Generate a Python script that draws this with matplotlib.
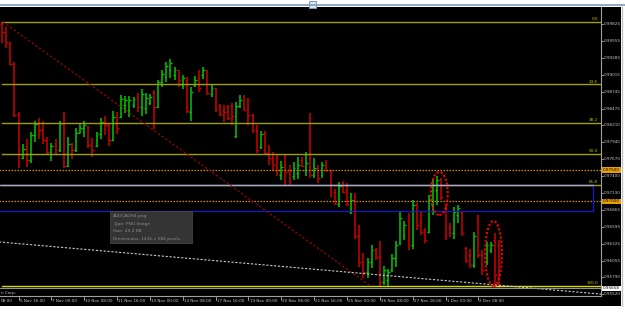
import matplotlib
matplotlib.use('Agg')
import matplotlib.pyplot as plt
from matplotlib.patches import Rectangle, Ellipse
from matplotlib.lines import Line2D
from matplotlib.transforms import blended_transform_factory

W, H = 625, 330

# AUDCAD H4, bar index 0 = 5 Nov 16:00
opens = [0.9983, 0.9970, 0.9954, 0.9919,
         0.9838, 0.9769, 0.9784, 0.9766, 0.9806, 0.9824, 0.9814, 0.9798, 0.9779, 0.9789,
         0.9782, 0.9824, 0.9756, 0.9792, 0.9782, 0.9809, 0.9817, 0.9820, 0.9790, 0.9789,
         0.9808, 0.9827, 0.9822, 0.9798, 0.9835, 0.9835, 0.9854, 0.9846, 0.9854, 0.9867,
         0.9851, 0.9849, 0.9857, 0.9874, 0.9851, 0.9890, 0.9898, 0.9909, 0.9901, 0.9909,
         0.9885, 0.9893, 0.9843, 0.9885, 0.9897, 0.9901, 0.9909, 0.9871, 0.9881, 0.9852,
         0.9846, 0.9852, 0.9852, 0.9805, 0.9852, 0.9865, 0.9846, 0.9838, 0.9814, 0.9787,
         0.9809, 0.9777, 0.9769, 0.9769, 0.9742, 0.9755, 0.9747, 0.9741, 0.9745, 0.9766,
         0.9750, 0.9769, 0.9742, 0.9753, 0.9742, 0.9758, 0.9750, 0.9715, 0.9696, 0.9730,
         0.9718, 0.9683, 0.9702, 0.9645, 0.9604, 0.9588, 0.9604, 0.9623, 0.9612, 0.9572,
         0.9575, 0.9591, 0.9610, 0.9634, 0.9645, 0.9670, 0.9631, 0.9694, 0.9667, 0.9655,
         0.9651, 0.9694, 0.9718, 0.9734, 0.9694, 0.9658, 0.9649, 0.9678, 0.9683, 0.9626,
         0.9615, 0.9599, 0.9670, 0.9615, 0.9604, 0.9623, 0.9639, 0.9631]
highs = [0.9986, 0.9978, 0.9954, 0.9922,
         0.9843, 0.9792, 0.9800, 0.9811, 0.9828, 0.9833, 0.9828, 0.9803, 0.9793, 0.9800,
         0.9828, 0.9843, 0.9803, 0.9793, 0.9817, 0.9824, 0.9828, 0.9820, 0.9801, 0.9811,
         0.9833, 0.9836, 0.9824, 0.9844, 0.9843, 0.9870, 0.9868, 0.9868, 0.9867, 0.9873,
         0.9879, 0.9873, 0.9871, 0.9877, 0.9893, 0.9909, 0.9922, 0.9927, 0.9914, 0.9909,
         0.9901, 0.9898, 0.9882, 0.9900, 0.9909, 0.9914, 0.9909, 0.9885, 0.9881, 0.9855,
         0.9854, 0.9854, 0.9857, 0.9859, 0.9870, 0.9870, 0.9865, 0.9839, 0.9822, 0.9812,
         0.9812, 0.9790, 0.9779, 0.9776, 0.9765, 0.9774, 0.9758, 0.9763, 0.9771, 0.9771,
         0.9779, 0.9841, 0.9769, 0.9758, 0.9763, 0.9766, 0.9750, 0.9720, 0.9731, 0.9733,
         0.9730, 0.9714, 0.9714, 0.9662, 0.9618, 0.9610, 0.9631, 0.9626, 0.9637, 0.9597,
         0.9593, 0.9617, 0.9637, 0.9683, 0.9669, 0.9682, 0.9702, 0.9698, 0.9683, 0.9658,
         0.9710, 0.9734, 0.9741, 0.9738, 0.9694, 0.9666, 0.9691, 0.9694, 0.9683, 0.9628,
         0.9625, 0.9652, 0.9678, 0.9623, 0.9636, 0.9636, 0.9650, 0.9639]
lows = [0.9952, 0.9944, 0.9917, 0.9835,
        0.9753, 0.9768, 0.9755, 0.9761, 0.9795, 0.9800, 0.9792, 0.9774, 0.9764, 0.9774,
        0.9779, 0.9753, 0.9755, 0.9768, 0.9779, 0.9809, 0.9803, 0.9785, 0.9771, 0.9787,
        0.9800, 0.9806, 0.9789, 0.9797, 0.9808, 0.9833, 0.9841, 0.9835, 0.9848, 0.9843,
        0.9836, 0.9840, 0.9854, 0.9816, 0.9849, 0.9882, 0.9890, 0.9897, 0.9893, 0.9882,
        0.9879, 0.9841, 0.9828, 0.9882, 0.9874, 0.9895, 0.9870, 0.9867, 0.9843, 0.9836,
        0.9827, 0.9830, 0.9822, 0.9801, 0.9848, 0.9844, 0.9822, 0.9809, 0.9777, 0.9784,
        0.9774, 0.9758, 0.9749, 0.9741, 0.9734, 0.9726, 0.9726, 0.9734, 0.9736, 0.9755,
        0.9741, 0.9737, 0.9737, 0.9729, 0.9737, 0.9747, 0.9707, 0.9694, 0.9691, 0.9714,
        0.9693, 0.9680, 0.9641, 0.9596, 0.9578, 0.9578, 0.9594, 0.9607, 0.9566, 0.9567,
        0.9566, 0.9588, 0.9596, 0.9631, 0.9639, 0.9623, 0.9625, 0.9655, 0.9647, 0.9634,
        0.9650, 0.9678, 0.9694, 0.9702, 0.9639, 0.9644, 0.9641, 0.9666, 0.9645, 0.9602,
        0.9594, 0.9594, 0.9610, 0.9583, 0.9599, 0.9618, 0.9567, 0.9561]
closes = [0.9970, 0.9954, 0.9919, 0.9838,
          0.9782, 0.9784, 0.9766, 0.9806, 0.9824, 0.9814, 0.9798, 0.9779, 0.9789, 0.9782,
          0.9824, 0.9756, 0.9792, 0.9782, 0.9809, 0.9817, 0.9822, 0.9790, 0.9782, 0.9808,
          0.9827, 0.9822, 0.9798, 0.9835, 0.9817, 0.9863, 0.9862, 0.9862, 0.9863, 0.9851,
          0.9871, 0.9865, 0.9867, 0.9851, 0.9890, 0.9903, 0.9916, 0.9920, 0.9909, 0.9893,
          0.9897, 0.9844, 0.9874, 0.9893, 0.9881, 0.9909, 0.9873, 0.9881, 0.9847, 0.9840,
          0.9843, 0.9833, 0.9836, 0.9852, 0.9862, 0.9846, 0.9838, 0.9814, 0.9782, 0.9808,
          0.9777, 0.9769, 0.9758, 0.9750, 0.9755, 0.9747, 0.9731, 0.9753, 0.9758, 0.9756,
          0.9761, 0.9742, 0.9753, 0.9737, 0.9758, 0.9750, 0.9709, 0.9698, 0.9725, 0.9715,
          0.9696, 0.9702, 0.9645, 0.9604, 0.9588, 0.9604, 0.9623, 0.9612, 0.9572, 0.9591,
          0.9588, 0.9610, 0.9631, 0.9674, 0.9662, 0.9631, 0.9694, 0.9662, 0.9651, 0.9639,
          0.9702, 0.9726, 0.9734, 0.9707, 0.9647, 0.9649, 0.9683, 0.9690, 0.9650, 0.9607,
          0.9599, 0.9645, 0.9615, 0.9591, 0.9631, 0.9631, 0.9583, 0.9566]
first_bar = -4

time_ticks = [-8, 0, 8, 16, 24, 32, 40, 48, 56, 64, 72, 80, 88, 96, 104, 112]
time_labels = ['08:00', '5 Nov 16:00', '7 Nov 00:00', '10 Nov 08:00', '11 Nov 16:00',
               '13 Nov 00:00', '14 Nov 08:00', '17 Nov 16:00', '19 Nov 00:00', '20 Nov 08:00',
               '21 Nov 16:00', '25 Nov 00:00', '26 Nov 08:00', '27 Nov 16:00', '1 Dec 00:00',
               '2 Dec 08:00']

price_ticks = [0.99825, 0.99555, 0.99285, 0.99015, 0.98745, 0.98475, 0.98210, 0.97940,
               0.97670, 0.97400, 0.97130, 0.96865, 0.96595, 0.96325, 0.96055, 0.95790, 0.95520]

fib_high, fib_low = 0.99857, 0.95654
fib_levels = [0.0, 23.6, 38.2, 50.0, 61.8, 100.0]
hlines_orange = [0.97500, 0.97000]
bid = 0.95658

down_trend_x, down_trend_y = [-3.8, 85.4], [0.99857, 0.95670]
low_trend_x, low_trend_y = [-5, 143], [0.96357, 0.95519]
box_x, box_y = [-10, 139.9], [0.96848, 0.97262]
ellipses = [(102.5, 0.97127, 4.1, 0.00685), (115.7, 0.96171, 4.1, 0.01035)]


def fx(x):
    return x / W


def fy(y):
    return 1 - y / H


fig = plt.figure(figsize=(W / 100, H / 100), dpi=100)
fig.patch.set_facecolor('white')

# terminal window: black background and frame
fig.add_artist(Rectangle((0, fy(306)), fx(621), fy(7) - fy(306), transform=fig.transFigure,
                         facecolor='black', edgecolor='none', zorder=0))
fig.add_artist(Line2D([0, 1], [fy(5), fy(5)], transform=fig.transFigure, color='#8aa2ba', lw=1.3))
fig.add_artist(Rectangle((fx(309), fy(8)), fx(7), fy(1) - fy(8), transform=fig.transFigure,
                         facecolor='#dfe8f1', edgecolor='#7f9db9', lw=0.8))
fig.add_artist(Line2D([fx(622), fx(622)], [fy(306), fy(7)], transform=fig.transFigure,
                      color='#b8c4d0', lw=1.0))

ax = fig.add_axes([0, fy(296), fx(601), fy(7) - fy(296)])
ax.set_facecolor('black')
ax.set_xlim(-4.531, 141.876)
ax.set_ylim(0.95495, 1.000956)
ax.set_xticks([])
ax.set_yticks([])
for s in ax.spines.values():
    s.set_visible(False)

# bars
idx = list(range(first_bar, first_bar + len(opens)))
cols = ['#00c800' if c >= o else '#d00000' for o, c in zip(opens, closes)]
ax.vlines(idx, lows, highs, colors=cols, lw=1.1, zorder=2)
ax.hlines(opens, [i - 0.45 for i in idx], idx, colors=cols, lw=0.9, zorder=2)
ax.hlines(closes, idx, [i + 0.45 for i in idx], colors=cols, lw=0.9, zorder=2)

# fibonacci retracement
fib_prices = [fib_high - lv / 100 * (fib_high - fib_low) for lv in fib_levels]
for lv, p in zip(fib_levels, fib_prices):
    c = '#d8d800' if lv == 100.0 else '#a0a000'
    ax.plot([-4.0, 142], [p, p], color=c, lw=1.0, zorder=3)
    ax.text(141.2, p + 0.00012, f'{lv:.1f}', color='#c8c800', fontsize=3.0,
            ha='right', va='bottom', zorder=4)

for p in hlines_orange:
    ax.plot([-5, 143], [p, p], color='#d88a00', lw=0.9, ls=(0, (1.2, 1.2)), zorder=3)

# rectangle
ax.plot([box_x[0], box_x[1], box_x[1]], [box_y[0], box_y[0], box_y[1]],
        color='#1818c8', lw=0.9, zorder=3)
ax.plot(box_x, [box_y[1], box_y[1]], color='#a4a8dc', lw=1.0, zorder=3)

# trend lines
ax.plot(down_trend_x, down_trend_y, color='#b00000', lw=0.8, ls=(0, (2, 2)), zorder=3)
ax.plot(low_trend_x, low_trend_y, color='#c8c8c8', lw=0.8, ls=(0, (2, 1.5)), zorder=3)

for cx, cy, w, h in ellipses:
    ax.add_patch(Ellipse((cx, cy), w, h, fill=False, edgecolor='#ff0000', lw=1.5,
                         ls=(0, (1, 1)), zorder=4))

# bid line
ax.plot([-5, 143], [0.9562, 0.9562], color='#909090', lw=0.8, zorder=3)

ax.text(0.002, 0.9555, 'n Corp.', transform=blended_transform_factory(ax.transAxes, ax.transData),
        color='#c0c0c0', fontsize=3.0, ha='left', va='center')

# price axis
ty = blended_transform_factory(fig.transFigure, ax.transData)
fig.add_artist(Line2D([fx(601), fx(601)], [fy(296), fy(7)], transform=fig.transFigure,
                      color='#a0a0a0', lw=0.8))
for p in price_ticks:
    ax.plot([fx(601), fx(603)], [p, p], transform=ty, color='#b0b0b0', lw=0.6, clip_on=False)
    ax.text(fx(604), p, f'{p:.5f}', transform=ty, color='#c8c8c8', fontsize=3.0,
            ha='left', va='center', clip_on=False)
for p in hlines_orange:
    ax.text(fx(603), p, f'{p:.5f}', transform=ty, color='black', fontsize=3.0, ha='left',
            va='center', clip_on=False, zorder=5,
            bbox=dict(boxstyle='square,pad=0.15', fc='#e8a000', ec='none'))
ax.text(fx(603), 0.9562, f'{bid:.5f}', transform=ty, color='black', fontsize=3.0, ha='left',
        va='center', clip_on=False, zorder=5,
        bbox=dict(boxstyle='square,pad=0.15', fc='white', ec='none'))

# time axis
fig.add_artist(Line2D([0, fx(601)], [fy(296), fy(296)], transform=fig.transFigure,
                      color='#a0a0a0', lw=0.8))
tx = blended_transform_factory(ax.transData, fig.transFigure)
for t, lab in zip(time_ticks, time_labels):
    if t < first_bar:
        # label of a bar left of the window: only its hour part is visible
        fig.text(fx(1), fy(301), lab, color='#c8c8c8', fontsize=3.0, ha='left', va='center')
        continue
    ax.plot([t, t], [fy(297), fy(300)], transform=tx, color='#b0b0b0', lw=0.6, clip_on=False)
    ax.text(t + 0.25, fy(301), lab, transform=tx, color='#c8c8c8', fontsize=3.0,
            ha='left', va='center', clip_on=False)

# file tooltip
fig.add_artist(Rectangle((fx(110), fy(243)), fx(82), fy(211) - fy(243), transform=fig.transFigure,
                         facecolor='#3a3a3a', edgecolor='#505050', lw=0.5, alpha=0.9, zorder=6))
tip = ['AUDCADH4.png', 'Type: PNG Image', 'Size: 49.2 KB', 'Dimensions: 1436 x 584 pixels']
for k, line in enumerate(tip):
    fig.text(fx(113), fy(216 + k * 7.6), line, color='#8c8c8c', fontsize=3.2,
             ha='left', va='center', zorder=7)

fig.savefig('out.png', dpi=100, facecolor='white')
